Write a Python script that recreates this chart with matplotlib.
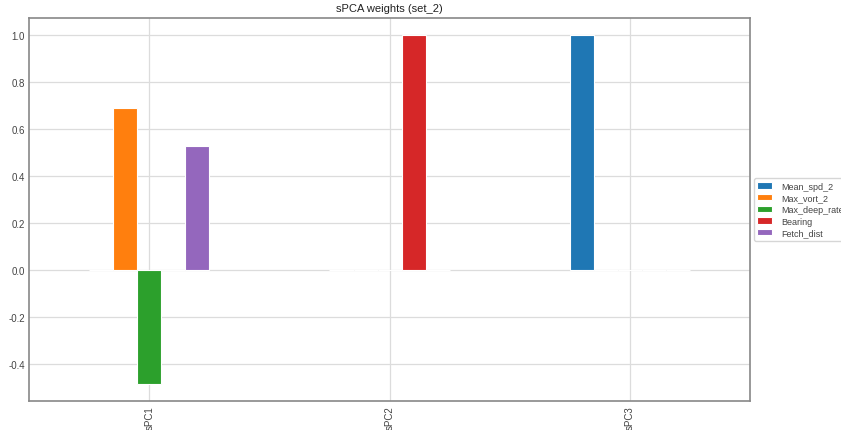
import matplotlib
matplotlib.use("Agg")
import matplotlib.pyplot as plt
import numpy as np

components = ["sPC1", "sPC2", "sPC3"]
series_names = ["Mean_spd_2", "Max_vort_2", "Max_deep_rate", "Bearing", "Fetch_dist"]
Mean_spd_2 = [0.0, 0.0, 1.0]
Max_vort_2 = [0.692, 0.0, 0.0]
Max_deep_rate = [-0.483, 0.0, 0.0]
Bearing = [0.0, 1.0, 0.0]
Fetch_dist = [0.530, 0.0, 0.0]
values = [Mean_spd_2, Max_vort_2, Max_deep_rate, Bearing, Fetch_dist]
colors = ["#1f77b4", "#ff7f0e", "#2ca02c", "#d62728", "#9467bd"]

plt.rcParams['font.family'] = ['Liberation Sans', 'DejaVu Sans']
fig = plt.figure(figsize=(8.41, 4.31), dpi=100)
ax = fig.add_axes([0.0345, 0.0673, 0.8575, 0.8887])

x = np.arange(len(components))
n = len(series_names)
w = 0.5 / n
for i, (name, vals) in enumerate(zip(series_names, values)):
    ax.bar(x + (i - (n - 1) / 2) * w, vals, width=w, color=colors[i],
           edgecolor="white", linewidth=0.8, label=name, zorder=2)

ax.set_xlim(-0.5, 2.5)
ax.set_xticks(x)
ax.set_xticklabels(components, rotation=90)
ax.set_yticks(np.arange(-0.4, 1.01, 0.2))
ax.set_yticklabels([f"{v:.1f}" for v in np.arange(-0.4, 1.01, 0.2)])
ax.grid(True, color="#dcdcdc", linewidth=0.9, zorder=0)
ax.set_axisbelow(True)
for s in ax.spines.values():
    s.set_color("#888888")
    s.set_linewidth(1.2)
ax.tick_params(axis="both", length=0, labelsize=7, colors="#444444", pad=3)
ax.set_title("sPCA weights (set_2)", fontsize=8, color="#222222", pad=5)
leg = ax.legend(loc="center left", bbox_to_anchor=(1.0, 0.5), fontsize=6.5,
                frameon=True, handlelength=1.6, handletextpad=1.0,
                labelspacing=0.3, borderaxespad=0.4)
leg.get_frame().set_edgecolor("#cccccc")
for t in leg.get_texts():
    t.set_color("#444444")
fig.savefig("out.png", dpi=100)
